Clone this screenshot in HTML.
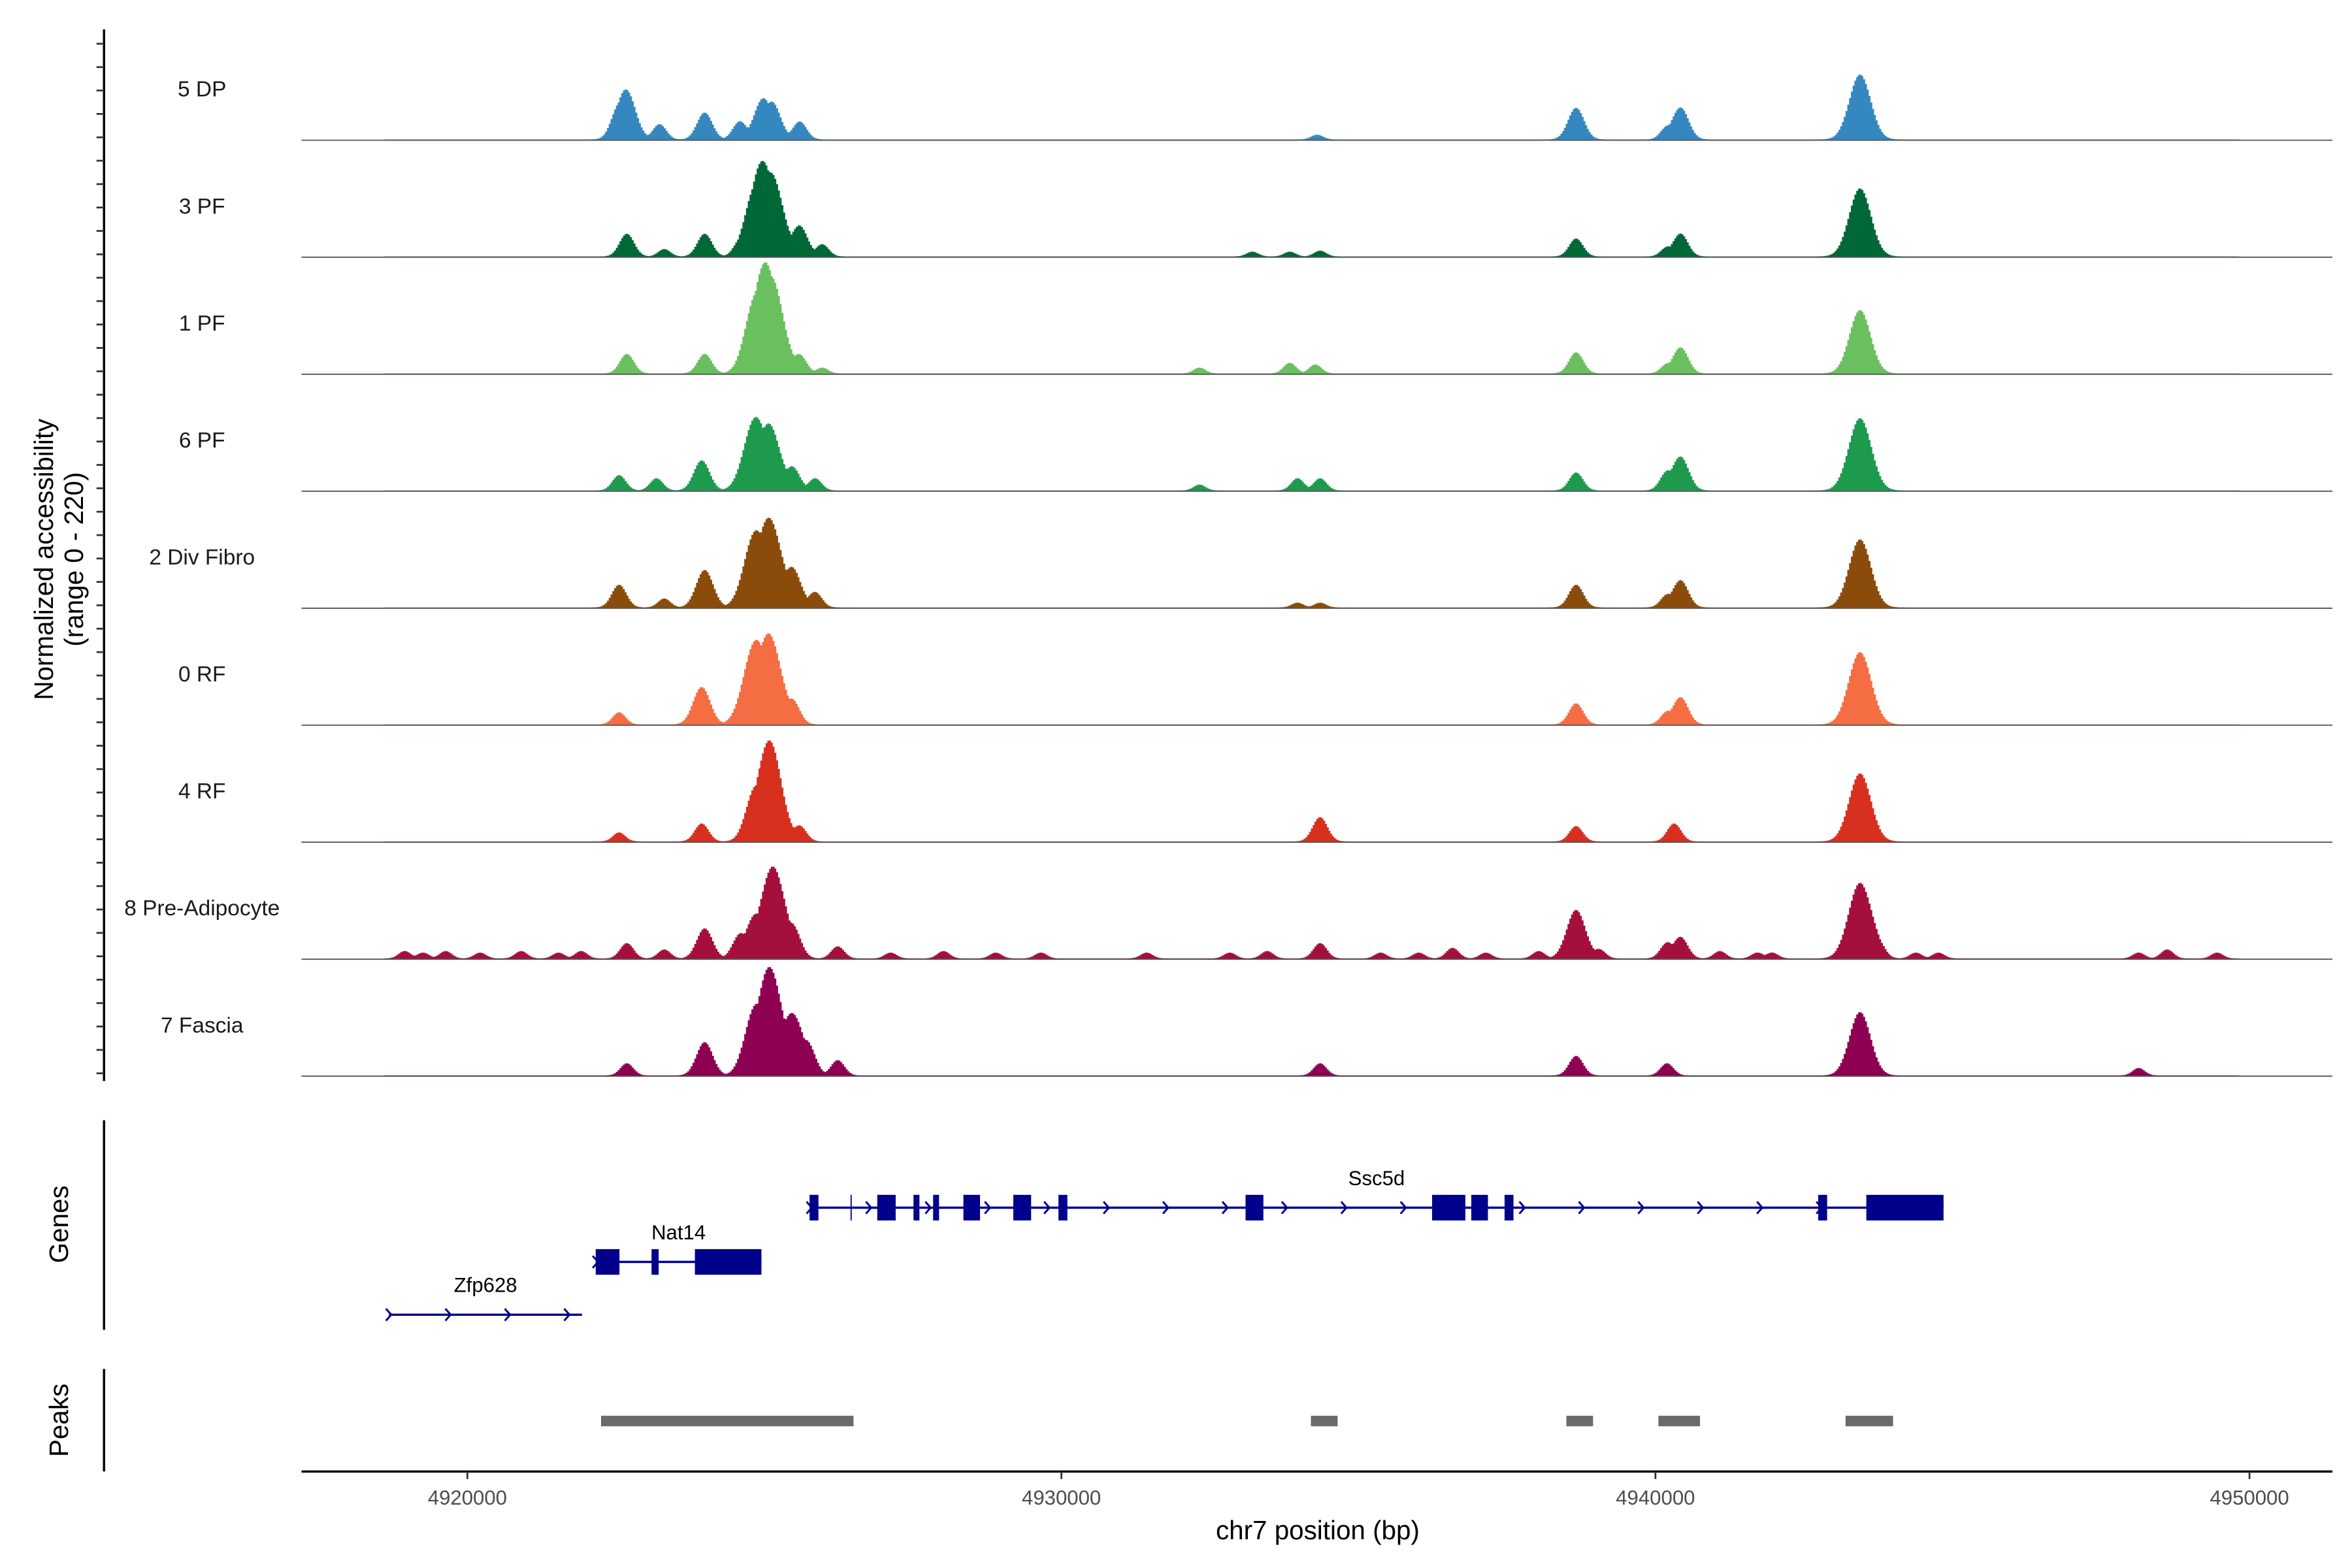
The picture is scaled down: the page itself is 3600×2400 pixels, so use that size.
<!DOCTYPE html>
<html><head><meta charset="utf-8"><title>Coverage plot</title>
<style>html,body{margin:0;padding:0;background:#fff}svg{display:block}text{font-family:"Liberation Sans",Arial,sans-serif}</style>
</head><body>
<svg id="chart" xmlns="http://www.w3.org/2000/svg" width="3600" height="2400" viewBox="0 0 1560 1040">
<rect x="0" y="0" width="1560" height="1040" fill="#fff"/>
<g id="tracks"></g>
<g id="genes"></g>
<g id="peaks"></g>
<g id="axes"></g>
</svg>
<script>
// ---- data ----
const trackNames = ["5 DP","3 PF","1 PF","6 PF","2 Div Fibro","0 RF","4 RF","8 Pre-Adipocyte","7 Fascia"];
const trackColors = ["#3587bf","#006837","#6abf5f","#1e9a4f","#8b4b0b","#f46d43","#d7301f","#a50f3c","#8e0152"];
// peak centres (kb) and heights (normalized accessibility, 0-220) per track
const c0=[4922.54,4922.67,4923.22,4923.98,4924.57,4924.95,4925.13,4925.58,4934.29,4938.65,4940.18,4940.41,4943.43];
const h0=[55,86,29,51,34,71,63,34,9,60,23,60,123];
const c1=[4922.67,4923.30,4923.98,4924.57,4924.82,4924.95,4925.13,4925.58,4925.96,4933.20,4933.83,4934.34,4938.65,4940.18,4940.41,4943.43];
const h1=[43,14,43,23,100,143,129,57,23,9,9,11,34,17,43,129];
const c2=[4922.67,4923.98,4924.82,4925.00,4925.13,4925.58,4925.96,4932.31,4933.83,4934.26,4938.65,4940.18,4940.41,4943.43];
const h2=[37,37,114,166,143,34,11,11,20,17,40,17,49,120];
const c3=[4922.54,4923.17,4923.93,4924.82,4925.08,4925.46,4925.84,4932.31,4933.96,4934.34,4938.65,4940.18,4940.41,4943.43];
const h3=[29,23,57,129,114,43,23,11,23,23,34,34,63,137];
const c4=[4922.54,4923.30,4923.98,4924.82,4925.08,4925.46,4925.84,4933.96,4934.34,4938.65,4940.18,4940.41,4943.43];
const h4=[43,17,71,129,157,71,29,9,9,43,23,51,129];
const c5=[4922.54,4923.93,4924.82,4925.08,4925.46,4938.65,4940.18,4940.41,4943.43];
const h5=[23,71,143,157,43,40,23,51,137];
const c6=[4922.54,4923.93,4924.82,4925.08,4925.58,4934.34,4938.65,4940.30,4943.43];
const h6=[17,34,86,186,29,46,29,34,129];
const c7=[4918.93,4919.24,4919.62,4920.20,4920.89,4921.52,4921.90,4922.67,4923.30,4923.98,4924.57,4924.82,4925.13,4925.46,4926.22,4927.11,4928.00,4928.88,4929.64,4931.42,4932.82,4933.45,4934.34,4935.36,4936.00,4936.57,4937.13,4938.02,4938.65,4939.04,4940.18,4940.41,4941.07,4941.70,4941.95,4943.43,4943.73,4944.37,4944.75,4948.12,4948.60,4949.44];
const h7=[14,11,14,11,14,11,14,29,17,57,43,71,172,57,23,11,14,11,11,11,11,14,29,11,11,20,11,14,92,17,29,40,14,11,11,143,29,11,11,11,17,11];
const c8=[4922.67,4923.98,4924.82,4925.08,4925.46,4925.71,4926.22,4934.34,4938.65,4940.18,4943.43,4948.12];
const h8=[23,63,114,194,109,57,29,23,37,23,120,14];
const centers=[c0,c1,c2,c3,c4,c5,c6,c7,c8];
const heights=[h0,h1,h2,h3,h4,h5,h6,h7,h8];
const peakStarts=[4922.25,4934.2,4938.5,4940.05,4943.2];
const peakEnds=[4926.5,4934.65,4938.95,4940.75,4944.0];
const geneNames=["Ssc5d","Nat14","Zfp628"];
const geneStarts=[4925.76,4922.16,4918.68];
const geneEnds=[4944.85,4924.95,4921.93];
const exonStarts=[[4925.76,4926.45,4926.90,4927.51,4927.84,4928.35,4929.19,4929.95,4933.10,4936.24,4936.90,4937.46,4942.74,4943.55],[4922.16,4923.10,4923.83],[]];
const exonEnds=[[4925.91,4926.47,4927.21,4927.61,4927.94,4928.63,4929.49,4930.10,4933.40,4936.80,4937.18,4937.61,4942.89,4944.85],[4922.56,4923.22,4924.95],[]];
const xTicks=[4920000,4930000,4940000,4950000];

// ---- scales ----
const NS="http://www.w3.org/2000/svg";
const X0=200,X1=1547,KB0=4917.208,KB1=4951.396;
function xs(kb){return X0+(kb-KB0)/(KB1-KB0)*(X1-X0);}
const base0=93,trackStep=77.6,trackH=77;
function ys(v,i){return base0+i*trackStep - v/220*trackH;}
function el(tag,attrs,parent){const e=document.createElementNS(NS,tag);for(const k in attrs)e.setAttribute(k,attrs[k]);parent.appendChild(e);return e;}
const gT=document.getElementById('tracks'),gG=document.getElementById('genes'),gP=document.getElementById('peaks'),gA=document.getElementById('axes');

// ---- coverage tracks ----
for(let i=0;i<trackNames.length;i++){
  const cs=centers[i],hs=heights[i];
  const bl=base0+i*trackStep;
  let d="M"+xs(4918.6)+","+bl;
  const step=0.03;
  for(let kb=4918.6;kb<=4949.8;kb+=step){
    let m=0,s=0;
    for(let j=0;j<cs.length;j++){const w=0.13+Math.min(hs[j],140)/1000;const z=(kb-cs[j])/w;const c=hs[j]*Math.exp(-z*z);if(c>m)m=c;s+=c;}
    let v=1.5+m+0.25*(s-m);
    if(v>220)v=220;
    const y=ys(v,i);
    d+=" L"+xs(kb).toFixed(2)+","+y.toFixed(2)+" L"+xs(kb+step).toFixed(2)+","+y.toFixed(2);
  }
  d+=" L"+xs(4949.8)+","+bl+" Z";
  const p=el('path',{d:d,fill:trackColors[i]},gT);
  
  
  const b=el('line',{x1:X0,x2:X1,y1:bl,y2:bl,stroke:'#555','stroke-width':0.8},gT);
  
  
  const t=el('text',{x:134,y:bl-29,'text-anchor':'middle','font-size':14.5,fill:'#1a1a1a'},gT);
  t.textContent=trackNames[i];
  
  
}

// ---- genes ----
const geneY=[801,837,872],labelY=[786,822,857];
for(let g=0;g<geneNames.length;g++){
  const y=geneY[g];
  const ln=el('line',{x1:xs(geneStarts[g]),x2:xs(geneEnds[g]),y1:y,y2:y,stroke:'#00008b','stroke-width':1.5},gG);
  
  
  for(let kb=geneStarts[g];kb<=geneEnds[g]+0.01;kb+=1.0){
    const x=xs(kb);
    const a=el('path',{d:"M"+(x-2)+","+(y-4)+" L"+(x+1.5)+","+y+" L"+(x-2)+","+(y+4),fill:'none',stroke:'#00008b','stroke-width':1.3},gG);
    
    
  }
  for(let e=0;e<exonStarts[g].length;e++){
    const r=el('rect',{x:xs(exonStarts[g][e]),y:y-8.5,width:Math.max(0.8,xs(exonEnds[g][e])-xs(exonStarts[g][e])),height:17,fill:'#00008b'},gG);
    
    
  }
  const t=el('text',{x:xs((geneStarts[g]+geneEnds[g])/2),y:labelY[g],'text-anchor':'middle','font-size':13.5,fill:'#000'},gG);
  t.textContent=geneNames[g];
  
  
}

// ---- peaks ----
for(let k=0;k<peakStarts.length;k++){
  const r=el('rect',{x:xs(peakStarts[k]),y:939,width:xs(peakEnds[k])-xs(peakStarts[k]),height:7,fill:'#6b6b6b'},gP);
  
  
}

// ---- axes ----
function axline(x1,y1,x2,y2,name,w){const l=el('line',{x1:x1,y1:y1,x2:x2,y2:y2,stroke:'#000','stroke-width':w||1.5},gA);return l;}
axline(69,19.5,69,717,'coverage-y-axis-line');
for(let k=0;k<45;k++){const y=29+k*15.52;if(y>716)break;const l=el('line',{x1:64,x2:69,y1:y,y2:y,stroke:'#333','stroke-width':1.2},gA);}
axline(69,743,69,882,'genes-axis-line');
axline(69,908,69,976,'peaks-axis-line');
axline(200,976,1547,976,'x-axis-line');
for(const v of xTicks){const x=xs(v/1000);
  const tk=el('line',{x1:x,x2:x,y1:976,y2:981,stroke:'#333','stroke-width':1.2},gA);
  
  
  const t=el('text',{x:x,y:998,'text-anchor':'middle','font-size':13.5,fill:'#4d4d4d'},gA);t.textContent=String(v);
  
  
}
function txt(s,x,y,size,name,rot){const t=el('text',{x:x,y:y,'text-anchor':'middle','font-size':size,fill:'#000'},gA);if(rot)t.setAttribute('transform','rotate(-90 '+x+' '+y+')');t.textContent=s;return t;}
txt("chr7 position (bp)",874,1021,17.5,'x-axis-title');
txt("Normalized accessibility",35,371,17.5,'y-axis-title',true);
txt("(range 0 - 220)",55,371,17.5,'y-axis-subtitle',true);
txt("Genes",45,812,17.5,'genes-axis-title',true);
txt("Peaks",45,942,17.5,'peaks-axis-title',true);
</script>
</body></html>
